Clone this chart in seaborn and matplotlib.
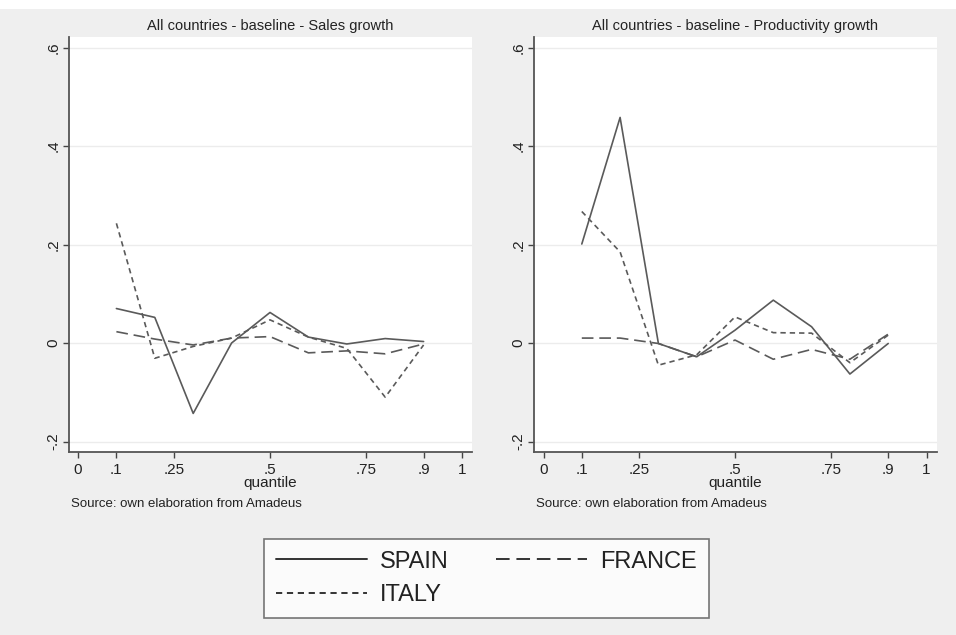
import numpy as np
import pandas as pd
import matplotlib
matplotlib.use("Agg")
import matplotlib.pyplot as plt
import seaborn as sns
from matplotlib.patches import Rectangle

# ---- data ----
quantiles = [0.1, 0.2, 0.3, 0.4, 0.5, 0.6, 0.7, 0.8, 0.9]
sales_spain = [0.070, 0.052, -0.143, 0.000, 0.062, 0.012, -0.002, 0.009, 0.003]
sales_france = [0.023, 0.008, -0.004, 0.010, 0.013, -0.020, -0.016, -0.022, -0.002]
sales_italy = [0.243, -0.031, -0.007, 0.010, 0.047, 0.012, -0.011, -0.110, -0.004]
prod_spain = [0.201, 0.458, -0.001, -0.028, 0.026, 0.087, 0.033, -0.063, -0.001]
prod_france = [0.010, 0.010, -0.001, -0.028, 0.006, -0.033, -0.013, -0.033, 0.018]
prod_italy = [0.267, 0.185, -0.045, -0.024, 0.053, 0.021, 0.020, -0.040, 0.016]
countries = ["SPAIN", "FRANCE", "ITALY"]
titles = ["All countries - baseline - Sales growth",
          "All countries - baseline - Productivity growth"]
xticks = [0, 0.1, 0.25, 0.5, 0.75, 0.9, 1]
xticklabels = ["0", ".1", ".25", ".5", ".75", ".9", "1"]
yticks = [-0.2, 0, 0.2, 0.4, 0.6]
yticklabels = ["-.2", "0", ".2", ".4", ".6"]
source = "Source: own elaboration from Amadeus"


def long_df(sp, fr, it):
    rows = []
    for name, vals in zip(countries, [sp, fr, it]):
        for q, v in zip(quantiles, vals):
            rows.append({"quantile": q, "value": v, "country": name})
    return pd.DataFrame(rows)


dfs = [long_df(sales_spain, sales_france, sales_italy),
       long_df(prod_spain, prod_france, prod_italy)]

sns.set_theme(style="white")
plt.rcParams["font.family"] = ["Liberation Sans", "DejaVu Sans"]

W, H = 956, 635
fig = plt.figure(figsize=(W / 100, H / 100), dpi=100)
fig.patch.set_facecolor("white")
fig.add_artist(Rectangle((0, 0), 1, (H - 9) / H, transform=fig.transFigure,
                         facecolor="#efefef", edgecolor="none", zorder=-10))

line_col = "#5a5a5a"
dashes = {"SPAIN": "", "FRANCE": (7, 3.5), "ITALY": (3.2, 2.4)}

# axes pixel boxes: left, right, top, bottom ; x0 pixel, px per unit
boxes = [(69, 472, 37, 452, 78.0, 384.0), (534, 937, 37, 452, 543.5, 383.0)]
y0_px, y_scale = 343.0, 492.5

axes = []
for i, (l, r, t, b, x0, xs) in enumerate(boxes):
    ax = fig.add_axes([l / W, 1 - b / H, (r - l) / W, (b - t) / H])
    sns.lineplot(data=dfs[i], x="quantile", y="value", style="country",
                 style_order=countries, dashes=dashes, color=line_col,
                 linewidth=1.2, legend=False, ax=ax)
    ax.set_xlim((l - x0) / xs, (r - x0) / xs)
    ax.set_ylim((y0_px - b) / y_scale, (y0_px - t) / y_scale)
    ax.set_facecolor("white")
    for y in yticks:
        ax.axhline(y, color="#ececec", lw=1.0, zorder=0)
    ax.set_xticks(xticks)
    ax.set_xticklabels(xticklabels, fontsize=11, color="#222222")
    ax.set_yticks(yticks)
    ax.set_yticklabels(yticklabels, fontsize=11, color="#222222",
                       rotation=90, va="center")
    ax.tick_params(axis="x", direction="out", length=4, width=1.0,
                   color="#444444", bottom=True, pad=4)
    ax.tick_params(axis="y", direction="out", length=4, width=1.0,
                   color="#444444", left=True, pad=2)
    for s in ["top", "right"]:
        ax.spines[s].set_visible(False)
    for s in ["left", "bottom"]:
        ax.spines[s].set_color("#555555")
        ax.spines[s].set_linewidth(1.3)
    ax.set_xlabel("quantile", fontsize=11, color="#222222", labelpad=-1)
    ax.set_ylabel("")
    ax.grid(False)
    axes.append(ax)
    cx = (l + r) / 2
    fig.text(cx / W, 1 - 26 / H, titles[i], ha="center", va="center",
             fontsize=10.5, color="#222222")
    fig.text((l + 2) / W, 1 - 504 / H, source, ha="left", va="center",
             fontsize=9.5, color="#222222")

# legend
handles = [plt.Line2D([], [], color="#333333", lw=1.4, linestyle="-"),
           plt.Line2D([], [], color="#333333", lw=1.4, dashes=(3.2, 2.4)),
           plt.Line2D([], [], color="#333333", lw=1.4, dashes=(7, 3.5))]
labels = ["SPAIN", "ITALY", "FRANCE"]
leg = fig.legend(handles, labels, ncol=2, loc="center",
                 bbox_to_anchor=(486.5 / W, 1 - 578.5 / H),
                 fontsize=17, frameon=True, fancybox=False,
                 handlelength=3.85, handletextpad=0.55, columnspacing=2.0,
                 borderpad=0.5, labelspacing=0.5, borderaxespad=0,
                 labelcolor="#222222")
leg.get_frame().set_edgecolor("#555555")
leg.get_frame().set_linewidth(1.2)
leg.get_frame().set_facecolor("white")

fig.savefig("out.png", dpi=100, facecolor=fig.get_facecolor())
